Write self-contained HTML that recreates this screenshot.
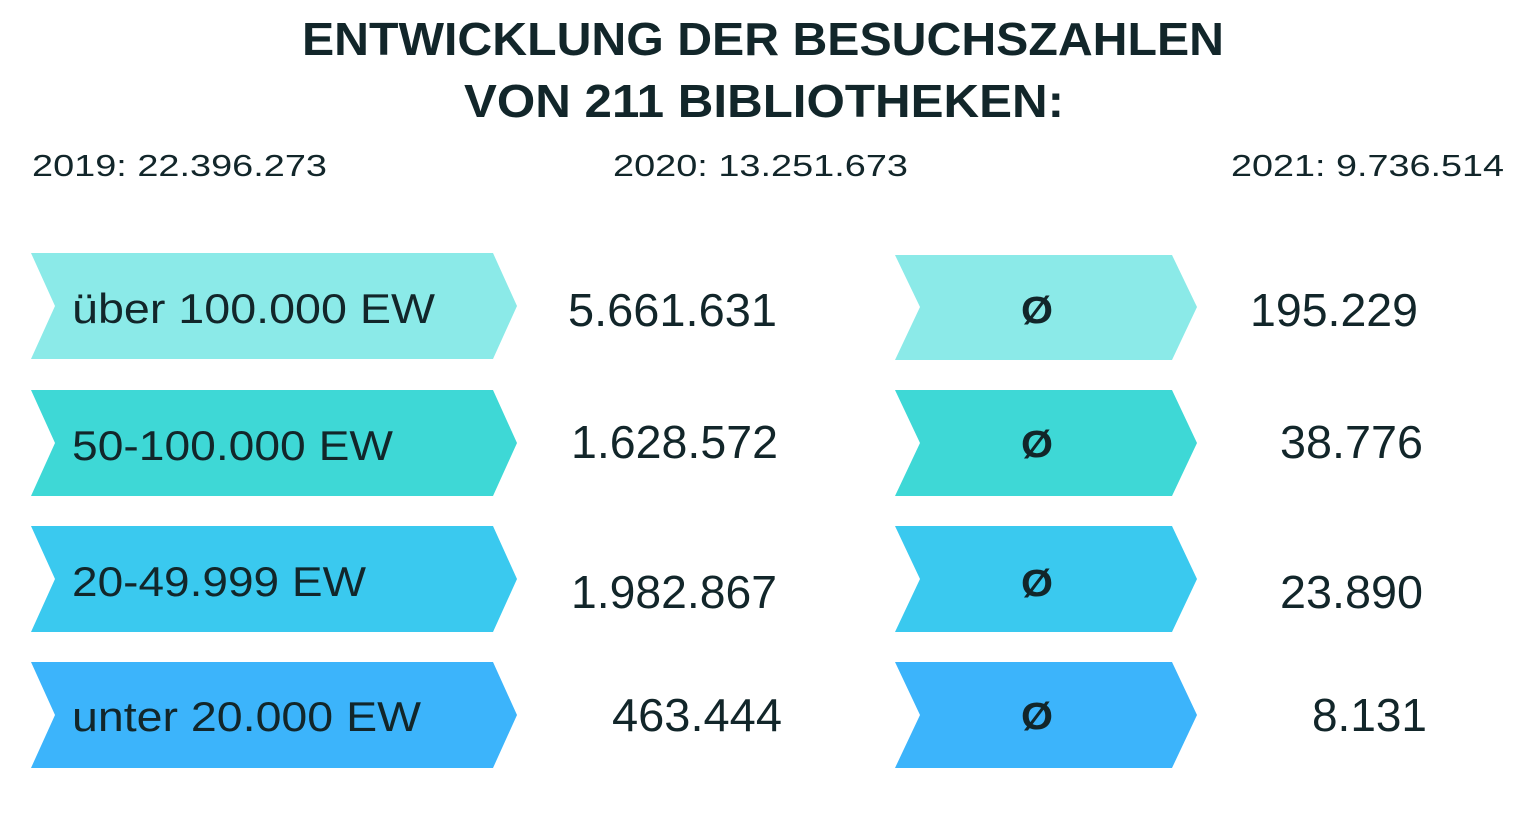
<!DOCTYPE html>
<html><head><meta charset="utf-8"><style>
html,body{margin:0;padding:0;background:#fff;}
svg{display:block;}
text{font-family:"Liberation Sans",sans-serif;fill:#12262a;}
</style></head><body>
<svg width="1529" height="819" viewBox="0 0 1529 819" xmlns="http://www.w3.org/2000/svg">
<text x="302" y="55" font-size="46" font-weight="bold" textLength="922" lengthAdjust="spacingAndGlyphs" fill="#1a1a1a">ENTWICKLUNG DER BESUCHSZAHLEN</text>
<text x="464" y="117" font-size="46" font-weight="bold" textLength="600" lengthAdjust="spacingAndGlyphs" fill="#1a1a1a">VON 211 BIBLIOTHEKEN:</text>
<text x="32" y="176" font-size="31" textLength="295" lengthAdjust="spacingAndGlyphs">2019: 22.396.273</text>
<text x="613" y="176" font-size="31" textLength="295" lengthAdjust="spacingAndGlyphs">2020: 13.251.673</text>
<text x="1231" y="176" font-size="31" textLength="273" lengthAdjust="spacingAndGlyphs">2021: 9.736.514</text>

<g>
<polygon points="31,253 493,253 517,306 493,359 31,359 55,306" fill="#8beae8"/>
<polygon points="31,390 493,390 517,443 493,496 31,496 55,443" fill="#3ed8d6"/>
<polygon points="31,526 493,526 517,579 493,632 31,632 55,579" fill="#3ac9ef"/>
<polygon points="31,662 493,662 517,715 493,768 31,768 55,715" fill="#3cb4fb"/>
<polygon points="895,255 1172,255 1197,307 1172,360 895,360 920,307" fill="#8beae8"/>
<polygon points="895,390 1172,390 1197,443 1172,496 895,496 920,443" fill="#3ed8d6"/>
<polygon points="895,526 1172,526 1197,579 1172,632 895,632 920,579" fill="#3ac9ef"/>
<polygon points="895,662 1172,662 1197,715 1172,768 895,768 920,715" fill="#3cb4fb"/>
</g>

<text x="72" y="323" font-size="42" textLength="363" lengthAdjust="spacingAndGlyphs">über 100.000 EW</text>
<text x="72" y="460" font-size="42" textLength="321" lengthAdjust="spacingAndGlyphs">50-100.000 EW</text>
<text x="72" y="596" font-size="42" textLength="294" lengthAdjust="spacingAndGlyphs">20-49.999 EW</text>
<text x="72" y="731" font-size="42" textLength="349" lengthAdjust="spacingAndGlyphs">unter 20.000 EW</text>

<text x="568" y="326" font-size="46" textLength="209" lengthAdjust="spacingAndGlyphs">5.661.631</text>
<text x="571" y="458" font-size="46" textLength="207" lengthAdjust="spacingAndGlyphs">1.628.572</text>
<text x="571" y="608" font-size="46" textLength="206" lengthAdjust="spacingAndGlyphs">1.982.867</text>
<text x="612" y="731" font-size="46" textLength="170" lengthAdjust="spacingAndGlyphs">463.444</text>

<text x="1021" y="323" font-size="38" font-weight="bold" textLength="32" lengthAdjust="spacingAndGlyphs">Ø</text>
<text x="1021" y="457" font-size="38" font-weight="bold" textLength="32" lengthAdjust="spacingAndGlyphs">Ø</text>
<text x="1021" y="596" font-size="38" font-weight="bold" textLength="32" lengthAdjust="spacingAndGlyphs">Ø</text>
<text x="1021" y="729" font-size="38" font-weight="bold" textLength="32" lengthAdjust="spacingAndGlyphs">Ø</text>

<text x="1250" y="326" font-size="46" textLength="168" lengthAdjust="spacingAndGlyphs">195.229</text>
<text x="1280" y="458" font-size="46" textLength="143" lengthAdjust="spacingAndGlyphs">38.776</text>
<text x="1280" y="608" font-size="46" textLength="143" lengthAdjust="spacingAndGlyphs">23.890</text>
<text x="1312" y="731" font-size="46" textLength="115" lengthAdjust="spacingAndGlyphs">8.131</text>
</svg>
</body></html>
